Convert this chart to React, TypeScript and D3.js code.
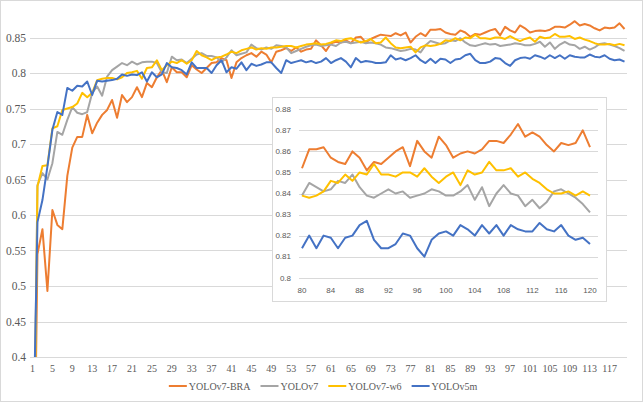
import React, { useEffect, useRef } from 'react';
import * as d3 from 'd3';

// epochs 1..120
const epochs = d3.range(1, 121);

const seriesNames = ['YOLOv7-BRA', 'YOLOv7', 'YOLOv7-w6', 'YOLOv5m'];
const seriesColors = ['#ED7D31', '#A5A5A5', '#FFC000', '#4472C4'];

const bra = [
  0.02, 0.545, 0.58, 0.493, 0.607, 0.586, 0.58, 0.655, 0.695, 0.71,
  0.71, 0.741, 0.715, 0.73, 0.741, 0.748, 0.762, 0.737, 0.769, 0.759,
  0.766, 0.78, 0.766, 0.786, 0.78, 0.794, 0.804, 0.787, 0.808, 0.801,
  0.801, 0.794, 0.811, 0.805, 0.8, 0.807, 0.814, 0.815, 0.821, 0.818,
  0.793, 0.815, 0.821, 0.825, 0.828, 0.823, 0.83, 0.826, 0.815, 0.83,
  0.832, 0.835, 0.831, 0.836, 0.83, 0.833, 0.834, 0.846, 0.839, 0.831,
  0.842, 0.844, 0.843, 0.846, 0.842, 0.85, 0.851, 0.843, 0.848, 0.851,
  0.854, 0.853, 0.852, 0.856, 0.853, 0.857, 0.843, 0.851, 0.856, 0.852,
  0.861, 0.861, 0.862, 0.857, 0.855, 0.854, 0.86, 0.857, 0.851, 0.855,
  0.854, 0.857, 0.86, 0.862, 0.853, 0.865, 0.86, 0.857, 0.867, 0.863,
  0.857, 0.859, 0.86, 0.859, 0.861, 0.865, 0.865, 0.864, 0.868, 0.873,
  0.867, 0.869, 0.867, 0.863, 0.86, 0.864, 0.863, 0.864, 0.87, 0.862,
];

const v7 = [
  0.1, 0.642, 0.659, 0.65, 0.673, 0.717, 0.713, 0.734, 0.752, 0.744,
  0.742, 0.745, 0.772, 0.781, 0.768, 0.795, 0.804, 0.809, 0.814, 0.811,
  0.816, 0.812, 0.815, 0.816, 0.816, 0.814, 0.801, 0.8, 0.823, 0.818,
  0.819, 0.814, 0.82, 0.826, 0.828, 0.824, 0.824, 0.822, 0.815, 0.822,
  0.832, 0.825, 0.827, 0.829, 0.84, 0.835, 0.833, 0.836, 0.834, 0.839,
  0.838, 0.836, 0.828, 0.831, 0.834, 0.837, 0.839, 0.84, 0.838, 0.839,
  0.84, 0.838, 0.843, 0.844, 0.842, 0.843, 0.844, 0.842, 0.843, 0.842,
  0.84, 0.836, 0.835, 0.833, 0.831, 0.832, 0.834, 0.833, 0.829, 0.839,
  0.845, 0.843, 0.841, 0.842, 0.846, 0.845, 0.849, 0.843, 0.839, 0.838,
  0.84, 0.842, 0.84, 0.841, 0.838, 0.839, 0.84, 0.842, 0.841, 0.839,
  0.839, 0.841, 0.844, 0.837, 0.843, 0.834, 0.84, 0.844, 0.84, 0.839,
  0.834, 0.837, 0.833, 0.836, 0.841, 0.842, 0.84, 0.838, 0.835, 0.831,
];

const w6 = [
  0.05, 0.64, 0.669, 0.67, 0.722, 0.725, 0.748, 0.75, 0.752, 0.757,
  0.772, 0.766, 0.772, 0.79, 0.792, 0.793, 0.793, 0.791, 0.794, 0.8,
  0.801, 0.803, 0.792, 0.807, 0.808, 0.818, 0.804, 0.811, 0.816, 0.814,
  0.818, 0.813, 0.818, 0.831, 0.825, 0.822, 0.818, 0.822, 0.823, 0.826,
  0.83, 0.828, 0.832, 0.834, 0.836, 0.833, 0.835, 0.834, 0.836, 0.836,
  0.837, 0.838, 0.838, 0.836, 0.838, 0.84, 0.841, 0.842, 0.84, 0.841,
  0.843, 0.846, 0.845, 0.848, 0.849, 0.846, 0.843, 0.845, 0.848, 0.842,
  0.843, 0.85, 0.842, 0.836, 0.835, 0.836, 0.837, 0.829, 0.836, 0.839,
  0.838, 0.839, 0.841, 0.846, 0.845, 0.849, 0.846, 0.85, 0.849, 0.854,
  0.849, 0.849, 0.848, 0.85, 0.85, 0.848, 0.852, 0.848, 0.845, 0.848,
  0.85, 0.844, 0.851, 0.849, 0.85, 0.855, 0.851, 0.851, 0.852, 0.848,
  0.85, 0.847, 0.845, 0.842, 0.84, 0.84, 0.841, 0.839, 0.841, 0.839,
];

const v5m = [
  0.22, 0.59, 0.621, 0.668, 0.72, 0.745, 0.741, 0.779, 0.775, 0.782,
  0.781, 0.788, 0.769, 0.789, 0.788, 0.789, 0.79, 0.792, 0.798, 0.796,
  0.798, 0.797, 0.801, 0.788, 0.801, 0.794, 0.798, 0.814, 0.808, 0.807,
  0.804, 0.798, 0.815, 0.807, 0.807, 0.807, 0.8, 0.811, 0.818, 0.801,
  0.808, 0.806, 0.815, 0.804, 0.813, 0.81, 0.812, 0.815, 0.815, 0.807,
  0.8, 0.818, 0.814, 0.816, 0.818, 0.815, 0.817, 0.814, 0.816, 0.821,
  0.814, 0.818, 0.821, 0.816, 0.808, 0.821, 0.815, 0.817, 0.816, 0.814,
  0.814, 0.815, 0.825, 0.819, 0.821, 0.818, 0.821, 0.825, 0.818, 0.814,
  0.82, 0.814, 0.82, 0.819, 0.814, 0.819, 0.82, 0.825, 0.827, 0.818,
  0.814, 0.814, 0.816, 0.821, 0.82, 0.814, 0.81, 0.818, 0.821, 0.822,
  0.82, 0.825, 0.823, 0.82, 0.825, 0.821, 0.825, 0.82, 0.825, 0.823,
  0.822, 0.822, 0.826, 0.823, 0.822, 0.825, 0.82, 0.818, 0.819, 0.816,
];

const mainTicks = [0.4, 0.45, 0.5, 0.55, 0.6, 0.65, 0.7, 0.75, 0.8, 0.85];
const insetTicks = [0.8, 0.81, 0.82, 0.83, 0.84, 0.85, 0.86, 0.87, 0.88];
const insetStart = 80;
const insetXTicks = d3.range(80, 121, 4);

const App = () => {
  const svgRef = useRef<SVGSVGElement>(null);

  useEffect(() => {
    const width = 643;
    const height = 402;
    const all = [bra, v7, w6, v5m];

    const svg = d3.select(svgRef.current)
      .attr('width', width)
      .attr('height', height);
    svg.selectAll('*').remove();

    svg.append('rect')
      .attr('x', 0.5).attr('y', 0.5)
      .attr('width', width - 1).attr('height', height - 1)
      .attr('fill', '#fff').attr('stroke', '#D9D9D9');

    // main chart
    const x = d3.scalePoint<number>().domain(epochs).range([30, 627]).padding(0.5);
    const y = d3.scaleLinear().domain([0.4, 0.9]).range([357, 2]);

    svg.append('defs').append('clipPath').attr('id', 'plotclip')
      .append('rect').attr('x', 30).attr('y', 0).attr('width', 597).attr('height', 357);

    svg.append('g')
      .selectAll('line')
      .data(mainTicks)
      .join('line')
      .attr('x1', 30).attr('x2', 627)
      .attr('y1', d => Math.round(y(d)) + 0.5).attr('y2', d => Math.round(y(d)) + 0.5)
      .attr('stroke', '#D9D9D9');

    svg.append('g')
      .attr('font-family', '"Liberation Serif", "Times New Roman", serif')
      .attr('font-size', 11.5)
      .attr('fill', '#595959')
      .attr('text-anchor', 'end')
      .selectAll('text')
      .data(mainTicks)
      .join('text')
      .attr('x', 26)
      .attr('y', d => y(d))
      .attr('dy', '0.35em')
      .text(d => String(d));

    svg.append('g')
      .attr('font-family', '"Liberation Serif", "Times New Roman", serif')
      .attr('font-size', 10)
      .attr('fill', '#595959')
      .attr('text-anchor', 'middle')
      .selectAll('text')
      .data(epochs.filter((_, i) => i % 4 === 0))
      .join('text')
      .attr('x', d => x(d) as number)
      .attr('y', 368)
      .attr('dy', '0.35em')
      .text(d => String(d));

    const line = d3.line<number>()
      .x((_, i) => x(epochs[i]) as number)
      .y(d => y(d));

    svg.append('g')
      .attr('clip-path', 'url(#plotclip)')
      .selectAll('path')
      .data(all)
      .join('path')
      .attr('d', d => line(d))
      .attr('fill', 'none')
      .attr('stroke', (_, i) => seriesColors[i])
      .attr('stroke-width', 2)
      .attr('stroke-linejoin', 'round');

    // legend
    const legend = svg.append('g')
      .attr('font-family', '"Liberation Serif", "Times New Roman", serif')
      .attr('font-size', 10)
      .attr('fill', '#595959');
    const items = legend.selectAll('g')
      .data(seriesNames)
      .join('g');
    items.append('line')
      .attr('x1', 0).attr('x2', 18)
      .attr('y1', 0).attr('y2', 0)
      .attr('stroke', (_, i) => seriesColors[i])
      .attr('stroke-width', 2);
    items.append('text')
      .attr('x', 20)
      .attr('dy', '0.35em')
      .text(d => d);
    const widths = items.nodes().map(n => 20 + (n.querySelector('text') as SVGTextElement).getComputedTextLength());
    const gap = 10;
    const total = d3.sum(widths) + gap * (widths.length - 1);
    let cx = 323 - total / 2;
    items.attr('transform', (_, i) => {
      const t = `translate(${cx},386)`;
      cx += widths[i] + gap;
      return t;
    });

    // inset
    const inset = svg.append('g');
    inset.append('rect')
      .attr('x', 272.5).attr('y', 97.5)
      .attr('width', 334).attr('height', 204)
      .attr('fill', '#fff').attr('stroke', '#D9D9D9');

    const ix = d3.scaleLinear().domain([80, 120]).range([302, 590]);
    const iy = d3.scaleLinear().domain([0.8, 0.88]).range([277.7, 109.3]);

    inset.append('g')
      .selectAll('line')
      .data(insetTicks)
      .join('line')
      .attr('x1', 299).attr('x2', 598)
      .attr('y1', d => Math.round(iy(d)) + 0.5).attr('y2', d => Math.round(iy(d)) + 0.5)
      .attr('stroke', '#D9D9D9');

    inset.append('g')
      .attr('font-family', '"Liberation Sans", Arial, sans-serif')
      .attr('font-size', 8)
      .attr('fill', '#595959')
      .attr('text-anchor', 'end')
      .selectAll('text')
      .data(insetTicks)
      .join('text')
      .attr('x', 291)
      .attr('y', d => iy(d))
      .attr('dy', '0.35em')
      .text(d => String(d));

    inset.append('g')
      .attr('font-family', '"Liberation Sans", Arial, sans-serif')
      .attr('font-size', 8)
      .attr('fill', '#595959')
      .attr('text-anchor', 'middle')
      .selectAll('text')
      .data(insetXTicks)
      .join('text')
      .attr('x', d => ix(d))
      .attr('y', 290)
      .attr('dy', '0.35em')
      .text(d => String(d));

    const iline = d3.line<number>()
      .x((_, i) => ix(insetStart + i))
      .y(d => iy(d));

    inset.append('g')
      .selectAll('path')
      .data(all.map(s => s.slice(insetStart - 1)))
      .join('path')
      .attr('d', d => iline(d))
      .attr('fill', 'none')
      .attr('stroke', (_, i) => seriesColors[i])
      .attr('stroke-width', 2)
      .attr('stroke-linejoin', 'round');
  }, []);

  return <svg ref={svgRef} style={{ position: 'absolute', left: 0, top: 0, display: 'block' }}></svg>;
};

export default App;
